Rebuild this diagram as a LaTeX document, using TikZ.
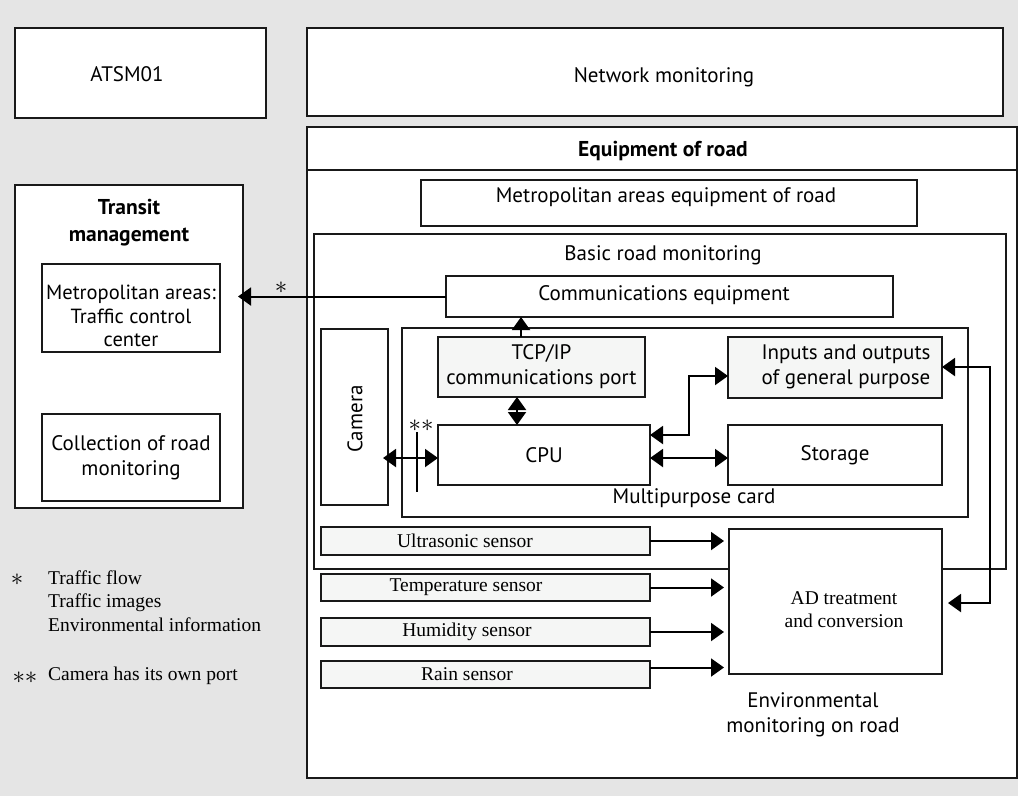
\documentclass[tikz,border=0pt]{standalone}
\usepackage{fontspec}
\setmainfont{Liberation Serif}
\newfontfamily\sansf{PT Sans}
\usetikzlibrary{arrows.meta}
\definecolor{bgc}{RGB}{229,229,229}
\definecolor{ltc}{RGB}{245,246,245}
\newcommand\bx[7]{\node[box,#6,minimum width=#4pt-#2pt,minimum height=#5pt-#3pt] (#1) at (#2,#3) {#7};}
\begin{document}
\begin{tikzpicture}[x=1pt,y=-1pt,
  box/.style={draw=black!90, line width=1.6pt, fill=white, inner sep=0pt, outer sep=0pt, anchor=north west, align=center, font=\sansf\fontsize{21}{25}\selectfont},
  sens/.style={fill=ltc},
  txt/.style={inner sep=0pt, align=center, font=\sansf\fontsize{21}{25}\selectfont},
  stxt/.style={inner sep=0pt, align=center, font=\fontsize{19.5}{23}\selectfont},
  ser/.style={inner sep=0pt, align=left, anchor=west, font=\fontsize{19.5}{23.5}\selectfont},
  star/.style={inner sep=0pt, font=\fontsize{24}{24}\selectfont},
  arr/.style={draw=black, line width=2pt, -{Triangle[length=13pt,width=18pt]}},
  dbl/.style={draw=black, line width=2pt, {Triangle[length=13pt,width=18pt]}-{Triangle[length=13pt,width=18pt]}}]
\fill[bgc] (0,0) rectangle (1018,796);
\useasboundingbox (0,0) rectangle (1018,796);
% top boxes
\bx{atsm}{15}{28}{266}{118}{}{}
\node[txt] (atsmlbl) at (127,74) {ATSM01};
\bx{netmon}{307}{28}{1003}{116}{}{}
\node[txt] (netmonlbl) at (664,77) {Network monitoring};
% equipment of road
\bx{equip}{307}{127}{1017}{778}{}{}
\draw[draw=black!90, line width=1.6pt] (equip.west |- 0,170) -- (equip.east |- 0,170);
\node[txt, font=\sansf\bfseries\fontsize{21.5}{25}\selectfont] (equiplbl) at (663,151) {Equipment of road};
\bx{metroeq}{421}{180}{917}{226}{}{}
\node[txt] (metroeqlbl) at (666,197) {Metropolitan areas equipment of road};
% basic road monitoring
\bx{basic}{314}{234}{1006}{569}{}{}
\node[txt] (basiclbl) at (663,255) {Basic road monitoring};
\bx{comm}{446}{276}{893}{317}{}{}
\node[txt] (commlbl) at (664,295) {Communications equipment};
\bx{mpc}{402}{328}{968}{517}{}{}
\node[txt] (mpclbl) at (694,498) {Multipurpose card};
\bx{camera}{321}{329}{388}{505}{}{}
\node[txt, rotate=90] (cameralbl) at (355,419) {Camera};
\bx{tcp}{438}{337}{645}{397}{fill=ltc}{TCP/IP\\communications port}
\bx{io}{728}{337}{942}{398}{fill=ltc}{}
\node[txt] (iolbl) at (846,367) {Inputs and outputs\\of general purpose};
\bx{cpu}{438}{425}{650}{485}{}{CPU}
\bx{storage}{728}{425}{942}{485}{}{Storage}
% sensors
\bx{ultra}{321}{527}{650}{555}{sens}{}
\bx{temp}{321}{574}{650}{601}{sens}{}
\bx{humid}{321}{618}{650}{646}{sens}{}
\bx{rain}{321}{661}{650}{688}{sens}{}
\node[stxt] (ultralbl) at (465,541) {Ultrasonic sensor};
\node[stxt] (templbl) at (466,587.5) {Temperature sensor};
\node[stxt] (humidlbl) at (467,632) {Humidity sensor};
\node[stxt] (rainlbl) at (467,674.5) {Rain sensor};
\bx{ad}{729}{529}{942}{674}{}{}
\node[stxt] (adlbl) at (844,610) {AD treatment\\and conversion};
\node[txt] (envlbl) at (813,715) {Environmental\\monitoring on road};
% transit management
\bx{transit}{15}{185}{243}{508}{}{}
\node[txt, font=\sansf\bfseries\fontsize{21.5}{27}\selectfont] (transitlbl) at (129,223) {Transit\\management};
\bx{tcc}{42}{264}{220}{352}{}{}
\node[txt, font=\sansf\fontsize{20.5}{23.5}\selectfont] (tcclbl) at (131,316) {Metropolitan areas:\\Traffic control\\center};
\bx{coll}{42}{414}{220}{501}{}{Collection of road\\monitoring}
% legend
\node[star] (star1) at (17,580) {$\ast$};
\node[ser] (leg1) at (48,601) {Traffic flow\\Traffic images\\Environmental information};
\node[star] (star2) at (25,678) {$\ast\ast$};
\node[ser] (leg2) at (48,676) {Camera has its own port};
% connectors
\draw[arr, shorten >=-5pt] (comm.west) -- (transit.east |- comm.west);
\node[star] (starc) at (281,288) {$\ast$};
\coordinate (tcpup) at (521,337);
\draw[arr] (tcpup) -- (tcpup |- comm.south);
\coordinate (tcpdn) at (517,397);
\draw[dbl] (tcpdn) -- (tcpdn |- cpu.north);
\coordinate (camy) at (388,458);
\draw[dbl, shorten <=-5pt] (camy) -- (cpu.west |- camy);
\coordinate (ticktop) at (417,432);
\coordinate (tickbot) at (417,492);
\draw[line width=1.6pt] (ticktop) -- (tickbot);
\node[star] (starcam) at (421,426) {$\ast\ast$};
\coordinate (csy) at (650,458);
\draw[dbl] (csy) -- (storage.west |- csy);
\coordinate (cio1) at (650,435);
\coordinate (cio2) at (689,435);
\coordinate (cio3) at (689,376);
\draw[dbl] (cio1) -- (cio2) -- (cio3) -- (io.west |- cio3);
\coordinate (rx) at (990,367);
\coordinate (rb) at (990,603);
\draw[dbl, shorten >=6pt] (io.east |- rx) -- (rx) -- (rb) -- (ad.east |- rb);
\foreach \s/\dy in {ultra/0, temp/0, humid/0, rain/7}{
  \coordinate (s-\s) at ([yshift=\dy pt]\s.east);
  \draw[arr, shorten >=5pt] (s-\s) -- (ad.west |- s-\s);
}
\end{tikzpicture}
\end{document}
